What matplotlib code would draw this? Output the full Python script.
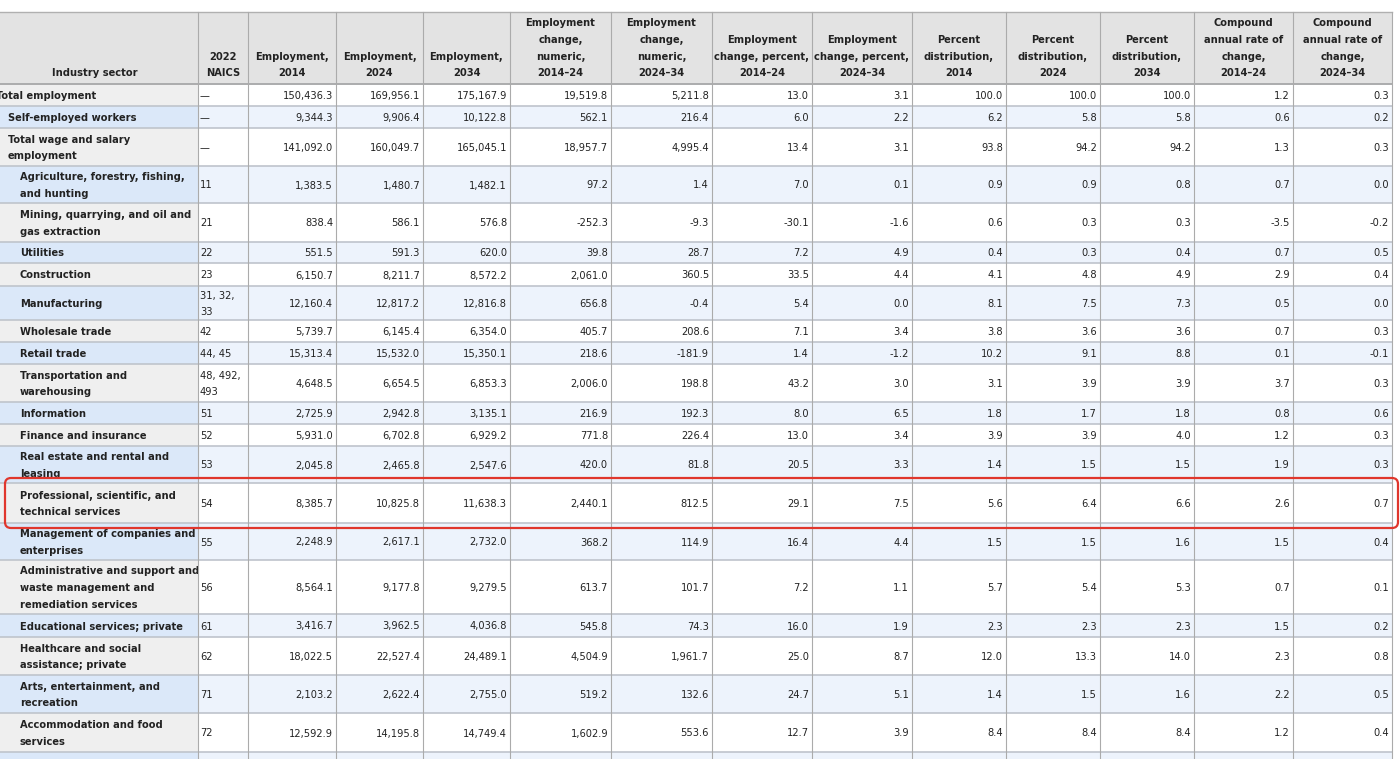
import matplotlib
matplotlib.use('Agg')
import matplotlib.pyplot as plt
from matplotlib.patches import Rectangle, FancyBboxPatch

headers = ['Industry sector', '2022\nNAICS',
           'Employment,\n2014', 'Employment,\n2024', 'Employment,\n2034',
           'Employment\nchange,\nnumeric,\n2014\u201324', 'Employment\nchange,\nnumeric,\n2024\u201334',
           'Employment\nchange, percent,\n2014\u201324', 'Employment\nchange, percent,\n2024\u201334',
           'Percent\ndistribution,\n2014', 'Percent\ndistribution,\n2024', 'Percent\ndistribution,\n2034',
           'Compound\nannual rate of\nchange,\n2014\u201324', 'Compound\nannual rate of\nchange,\n2024\u201334']

sectors = ['Total employment', 'Self-employed workers', 'Total wage and salary\nemployment',
           'Agriculture, forestry, fishing,\nand hunting', 'Mining, quarrying, and oil and\ngas extraction',
           'Utilities', 'Construction', 'Manufacturing', 'Wholesale trade', 'Retail trade',
           'Transportation and\nwarehousing', 'Information', 'Finance and insurance',
           'Real estate and rental and\nleasing', 'Professional, scientific, and\ntechnical services',
           'Management of companies and\nenterprises',
           'Administrative and support and\nwaste management and\nremediation services',
           'Educational services; private', 'Healthcare and social\nassistance; private',
           'Arts, entertainment, and\nrecreation', 'Accommodation and food\nservices',
           'Other services (except public\nadministration)']
levels = [0, 1, 1] + [2] * 19
naics = ['\u2014', '\u2014', '\u2014', '11', '21', '22', '23', '31, 32,\n33', '42', '44, 45',
         '48, 492,\n493', '51', '52', '53', '54', '55', '56', '61', '62', '71', '72', '']

emp_2014 = [150436.3, 9344.3, 141092.0, 1383.5, 838.4, 551.5, 6150.7, 12160.4, 5739.7, 15313.4,
            4648.5, 2725.9, 5931.0, 2045.8, 8385.7, 2248.9, 8564.1, 3416.7, 18022.5, 2103.2, 12592.9]
emp_2024 = [169956.1, 9906.4, 160049.7, 1480.7, 586.1, 591.3, 8211.7, 12817.2, 6145.4, 15532.0,
            6654.5, 2942.8, 6702.8, 2465.8, 10825.8, 2617.1, 9177.8, 3962.5, 22527.4, 2622.4, 14195.8]
emp_2034 = [175167.9, 10122.8, 165045.1, 1482.1, 576.8, 620.0, 8572.2, 12816.8, 6354.0, 15350.1,
            6853.3, 3135.1, 6929.2, 2547.6, 11638.3, 2732.0, 9279.5, 4036.8, 24489.1, 2755.0, 14749.4]
chg_num_14_24 = [19519.8, 562.1, 18957.7, 97.2, -252.3, 39.8, 2061.0, 656.8, 405.7, 218.6,
                 2006.0, 216.9, 771.8, 420.0, 2440.1, 368.2, 613.7, 545.8, 4504.9, 519.2, 1602.9]
chg_num_24_34 = [5211.8, 216.4, 4995.4, 1.4, -9.3, 28.7, 360.5, -0.4, 208.6, -181.9,
                 198.8, 192.3, 226.4, 81.8, 812.5, 114.9, 101.7, 74.3, 1961.7, 132.6, 553.6]
chg_pct_14_24 = [13.0, 6.0, 13.4, 7.0, -30.1, 7.2, 33.5, 5.4, 7.1, 1.4,
                 43.2, 8.0, 13.0, 20.5, 29.1, 16.4, 7.2, 16.0, 25.0, 24.7, 12.7]
chg_pct_24_34 = [3.1, 2.2, 3.1, 0.1, -1.6, 4.9, 4.4, 0.0, 3.4, -1.2,
                 3.0, 6.5, 3.4, 3.3, 7.5, 4.4, 1.1, 1.9, 8.7, 5.1, 3.9]
dist_2014 = [100.0, 6.2, 93.8, 0.9, 0.6, 0.4, 4.1, 8.1, 3.8, 10.2,
             3.1, 1.8, 3.9, 1.4, 5.6, 1.5, 5.7, 2.3, 12.0, 1.4, 8.4]
dist_2024 = [100.0, 5.8, 94.2, 0.9, 0.3, 0.3, 4.8, 7.5, 3.6, 9.1,
             3.9, 1.7, 3.9, 1.5, 6.4, 1.5, 5.4, 2.3, 13.3, 1.5, 8.4]
dist_2034 = [100.0, 5.8, 94.2, 0.8, 0.3, 0.4, 4.9, 7.3, 3.6, 8.8,
             3.9, 1.8, 4.0, 1.5, 6.6, 1.6, 5.3, 2.3, 14.0, 1.6, 8.4]
cagr_14_24 = [1.2, 0.6, 1.3, 0.7, -3.5, 0.7, 2.9, 0.5, 0.7, 0.1,
              3.7, 0.8, 1.2, 1.9, 2.6, 1.5, 0.7, 1.5, 2.3, 2.2, 1.2]
cagr_24_34 = [0.3, 0.2, 0.3, 0.0, -0.2, 0.5, 0.4, 0.0, 0.3, -0.1,
              0.3, 0.6, 0.3, 0.3, 0.7, 0.4, 0.1, 0.2, 0.8, 0.5, 0.4]

value_cols = [emp_2014, emp_2024, emp_2034, chg_num_14_24, chg_num_24_34, chg_pct_14_24,
              chg_pct_24_34, dist_2014, dist_2024, dist_2034, cagr_14_24, cagr_24_34]

# ---- layout (pixels) ----
col_edges = [-8, 198, 248, 336, 423, 510, 611, 712, 812, 912, 1006, 1100, 1194, 1293, 1392]
header_top, header_bottom = 12, 84
row_edges = [84, 106, 128, 166, 203, 242, 263, 286, 320, 342, 364, 402, 424, 446, 483,
             523, 560, 614, 637, 675, 713, 752, 790]
line_h = 16.8
FS = 7.9
font = dict(family='DejaVu Sans', fontstretch='condensed', fontsize=FS)

HEAD_BG = '#e3e3e3'
FIRST_BG = '#efefef'
FIRST_BG_ALT = '#dbe8f9'
ALT_BG = '#edf3fc'
TXT = '#222222'

fig = plt.figure(figsize=(14, 7.59), dpi=100)
ax = fig.add_axes([0, 0, 1, 1])
ax.set_xlim(0, 1400)
ax.set_ylim(759, 0)
ax.axis('off')


def put_lines(text, x, yc, ha, bold, clip, yoff=4):
    lines = text.split('\n')
    n = len(lines)
    for i, ln in enumerate(lines):
        y = yc + (i - (n - 1) / 2) * line_h + yoff
        t = ax.text(x, y, ln, ha=ha, va='baseline', color=TXT,
                    fontweight='bold' if bold else 'normal', **font)
        if clip is not None:
            t.set_clip_path(clip)
            t.set_clip_on(True)


# header
for c, h in enumerate(headers):
    x0, x1 = col_edges[c], col_edges[c + 1]
    ax.add_patch(Rectangle((x0, header_top), x1 - x0, header_bottom - header_top,
                           fc=HEAD_BG, ec='none'))
    n = len(h.split('\n'))
    yc = 72.5 - (n - 1) * line_h / 2
    put_lines(h, (x0 + x1) / 2, yc, 'center', True, None)

# body
for r, name in enumerate(sectors):
    y0, y1 = row_edges[r], row_edges[r + 1]
    alt = r % 2 == 1
    yc = (y0 + y1) / 2
    for c in range(len(col_edges) - 1):
        x0, x1 = col_edges[c], col_edges[c + 1]
        if c == 0:
            fc = FIRST_BG_ALT if alt else FIRST_BG
        else:
            fc = ALT_BG if alt else 'white'
        cell = Rectangle((x0, y0), x1 - x0, y1 - y0, fc=fc, ec='none')
        ax.add_patch(cell)
        clip = Rectangle((x0, y0), x1 - x0, y1 - y0, transform=ax.transData)
        if c == 0:
            put_lines(name, x0 + 4 + 12 * levels[r], yc, 'left', True, clip)
        elif c == 1:
            put_lines(naics[r], x0 + 2, yc, 'left', False, clip)
        elif r < len(emp_2014):
            v = value_cols[c - 2][r]
            put_lines(f'{v:,.1f}', x1 - 3, yc, 'right', False, clip)

# grid lines
for y in row_edges[:-1]:
    ax.plot([col_edges[0], col_edges[-1]], [y, y], color='#bfc4cc', lw=1.2, zorder=3)
ax.plot([col_edges[0], col_edges[-1]], [header_top, header_top], color='#b0b0b0', lw=1.0, zorder=3)
ax.plot([col_edges[0], col_edges[-1]], [header_bottom, header_bottom], color='#a8a8a8', lw=1.2, zorder=3)
for x in col_edges[1:]:
    ax.plot([x, x], [header_top, 759], color='#ababab', lw=0.8, zorder=3)

# highlight box around the professional services row
ax.add_patch(FancyBboxPatch((5, 478), 1393, 50, boxstyle='round,pad=0,rounding_size=6',
                            fc='none', ec='#e0362c', lw=1.6, zorder=5))

fig.savefig('out.png', dpi=100)
